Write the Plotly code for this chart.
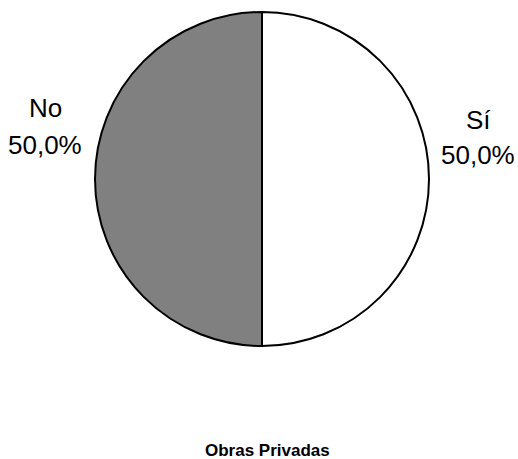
import plotly.graph_objects as go

labels = ["Sí", "No"]
values = [50.0, 50.0]
colors = ["#FFFFFF", "#808080"]
title = "Obras Privadas"

W, H = 518, 459


def px(x, y):
    return x / W, 1 - y / H


total = sum(values)
pct = [f"{v / total * 100:.1f}".replace(".", ",") + "%" for v in values]

x0, y0 = px(95, 346)
x1, y1 = px(429, 12)
fig = go.Figure(go.Pie(
    labels=labels, values=values, sort=False, direction="clockwise", rotation=0,
    marker=dict(colors=colors, line=dict(color="#000000", width=2)),
    textinfo="none", hoverinfo="label+percent", showlegend=False,
    domain=dict(x=[x0, x1], y=[y0, y1]),
))

font = dict(family="Liberation Sans, Arial, sans-serif", size=26, color="#000000")
pos = {"Sí": ((478, 120), (478, 155)), "No": ((45, 108), (45, 145))}
anns = []
for lab, p in zip(labels, pct):
    (ax, ay), (bx, by) = pos[lab]
    u, v = px(ax, ay)
    anns.append(dict(x=u, y=v, xref="paper", yref="paper", text=lab,
                     showarrow=False, font=font, xanchor="center", yanchor="middle"))
    u, v = px(bx, by)
    anns.append(dict(x=u, y=v, xref="paper", yref="paper", text=p,
                     showarrow=False, font=font, xanchor="center", yanchor="middle"))
u, v = px(267, 450)
anns.append(dict(x=u, y=v, xref="paper", yref="paper", text=f"<b>{title}</b>",
                 showarrow=False, font=dict(family="Liberation Sans, Arial, sans-serif", size=17, color="#000000"),
                 xanchor="center", yanchor="middle"))

fig.update_layout(width=W, height=H, margin=dict(l=0, r=0, t=0, b=0),
                  paper_bgcolor="#FFFFFF", plot_bgcolor="#FFFFFF", annotations=anns)
fig.write_html("out.html", config={"displayModeBar": False},
               post_script="document.body.style.margin='0px';document.body.style.overflow='hidden';")
